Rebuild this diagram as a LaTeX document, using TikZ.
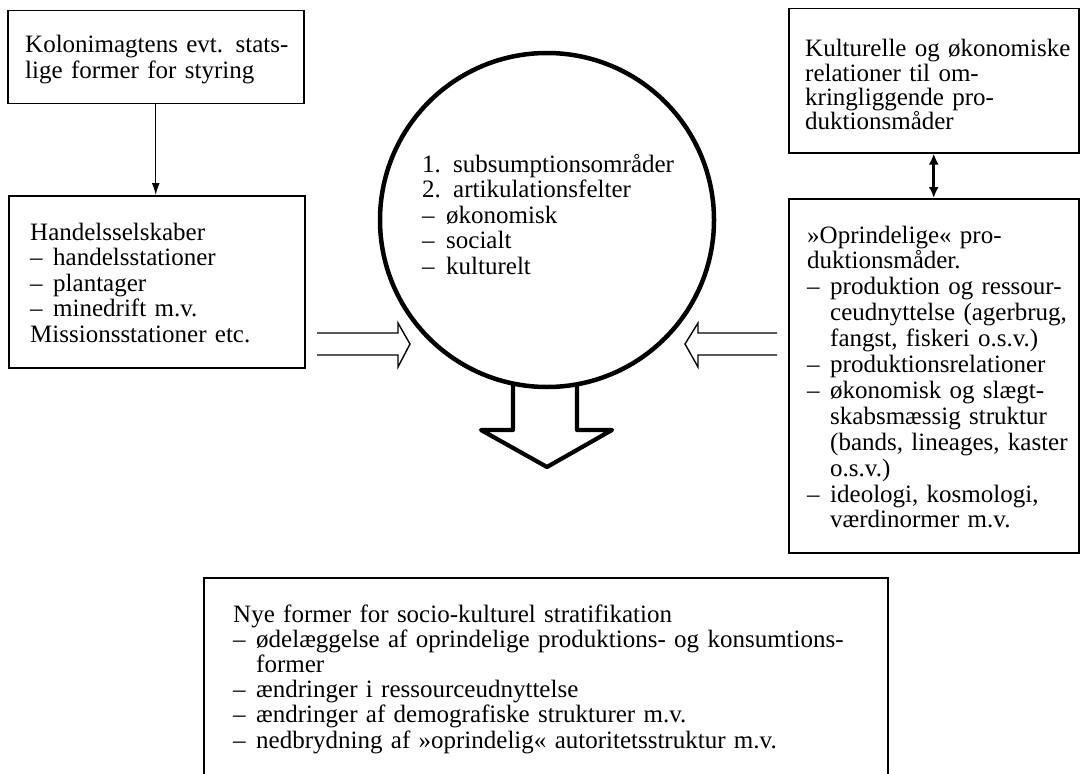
\documentclass[tikz,border=0pt]{standalone}
\usepackage{fontspec}
\setmainfont{Liberation Serif}
\usetikzlibrary{arrows.meta}
\newcommand\dsh{\makebox[23pt][l]{–}}
\newcommand\cdsh{\makebox[24pt][l]{–}}
\newcommand\num[1]{\makebox[31pt][l]{#1}}
\begin{document}
\begin{tikzpicture}[x=1pt,y=-1pt,
  box/.style={draw, line width=1.5pt, inner sep=0pt, anchor=north west},
  txt/.style={anchor=base west, inner sep=0pt, align=left, text width=680pt,
    font=\fontsize{25}{25.6}\selectfont},
  hollow/.style={line width=1.4pt, line join=miter},
  fat/.style={line width=4.2pt, line join=round, line cap=round}]
\useasboundingbox (0,0) rectangle (1083,773);
\clip (0,0) rectangle (1083,773);
\fill[white] (0,0) rectangle (1083,773);
% boxes
\node[box, minimum width=296pt, minimum height=93pt] (kol) at (7,10) {};
\node[box, minimum width=296pt, minimum height=172pt] (han) at (8,195) {};
\node[box, minimum width=290pt, minimum height=144pt] (kul) at (788,8) {};
\node[box, minimum width=290pt, minimum height=354pt] (opr) at (788,198) {};
\node[box, minimum width=684pt, minimum height=220pt] (nye) at (203,577) {};
\node[circle, draw, line width=4.5pt, inner sep=0pt, minimum size=334pt] (c) at (547,220) {};
% texts
\node[txt] (tkol) at (25,53) {Kolonimagtens evt. stats-\\lige former for styring};
\node[txt] (than) at (30,240) {Handelsselskaber\\\dsh handelsstationer\\\dsh plantager\\\dsh minedrift m.v.\\Missionsstationer etc.};
\node[txt, font=\fontsize{25}{24.2}\selectfont] (tkul) at (805,57) {Kulturelle og økonomiske\\relationer til om-\\kringliggende pro-\\duktionsmåder};
\node[txt, font=\fontsize{25}{25.9}\selectfont] (topr) at (807,243) {»Oprindelige« pro-\\duktionsmåder.\\\dsh produktion og ressour-\\\hspace*{23pt}ceudnyttelse (agerbrug,\\\hspace*{23pt}fangst, fiskeri o.s.v.)\\\dsh produktionsrelationer\\\dsh økonomisk og slægt-\\\hspace*{23pt}skabsmæssig struktur\\\hspace*{23pt}(bands, lineages, kaster\\\hspace*{23pt}o.s.v.)\\\dsh ideologi, kosmologi,\\\hspace*{23pt}værdinormer m.v.};
\node[txt] (tc) at (422,172) {\num{1.}subsumptionsområder\\\num{2.}artikulationsfelter\\\cdsh økonomisk\\\cdsh socialt\\\cdsh kulturelt};
\node[txt, font=\fontsize{25}{25.2}\selectfont] (tnye) at (233,622) {Nye former for socio-kulturel stratifikation\\\dsh ødelæggelse af oprindelige produktions- og konsumtions-\\\hspace*{23pt}former\\\dsh ændringer i ressourceudnyttelse\\\dsh ændringer af demografiske strukturer m.v.\\\dsh nedbrydning af »oprindelig« autoritetsstruktur m.v.};
% connectors
\draw[line width=1.3pt, -{Latex[length=12pt,width=8pt]}] (kol.south) -- (kol.south |- han.north);
\draw[line width=2.6pt, {Latex[length=11pt,width=10pt]}-{Latex[length=11pt,width=10pt]}] (kul.south) -- (kul.south |- opr.north);
% hollow arrows into circle
\coordinate (la) at (317,344);
\coordinate (ra) at (777,344);
\draw[hollow] (la) ++(0,-11) -- (398,333) -- (398,323) -- (410,344) -- (398,367) -- (398,355) -- ++(-81,0);
\draw[hollow] (ra) ++(0,-11) -- (698,333) -- (698,323) -- (685,344) -- (698,367) -- (698,355) -- ++(79,0);
% big arrow down from circle
\draw[fat] (513,386) -- (513,430) -- (481,430) -- (547,467) -- (612,430) -- (577,430) -- (577,386);
\end{tikzpicture}
\end{document}
